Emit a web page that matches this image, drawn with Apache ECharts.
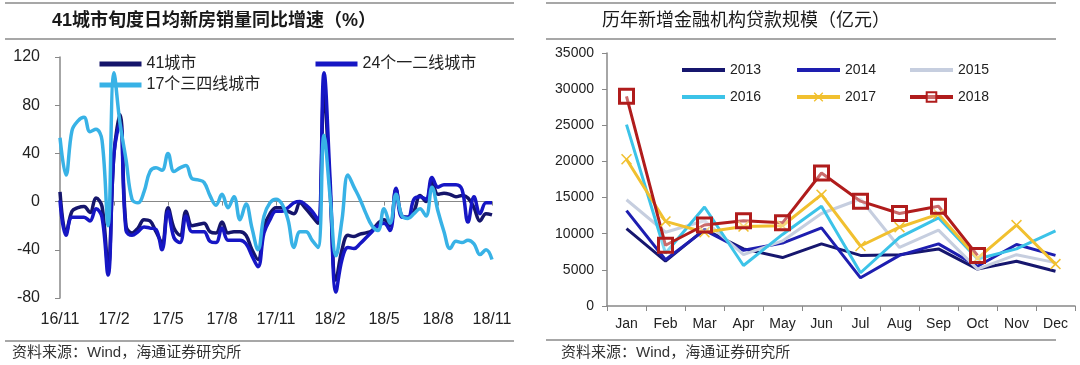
<!DOCTYPE html>
<html>
<head>
<meta charset="utf-8">
<script src="https://cdn.jsdelivr.net/npm/echarts@6/dist/echarts.min.js"></script>
<style>
  html, body { margin: 0; padding: 0; background: #fff; }
  #main { width: 1080px; height: 365px; }
</style>
</head>
<body>
<div id="main"></div>
<script>
// ---- left chart: 41 cities, ten-day new home sales yoy (%) ----
let xun_months = ['16/11','16/12','17/1','17/2','17/3','17/4','17/5','17/6','17/7','17/8','17/9','17/10',
    '17/11','17/12','18/1','18/2','18/3','18/4','18/5','18/6','18/7','18/8','18/9','18/10','18/11'];
let xun_tick_labels = ['16/11','17/2','17/5','17/8','17/11','18/2','18/5','18/8','18/11'];

let city41 = [8, -26, -8, -5, -4, -9, 3, -4, -54, 40, 72, -20, -26, -22, -15, -16, -25, -34, -5, -22,
    -28, -8, -20, -19, -18, -25, -26, -17, -26, -25, -25, -28, -40, -48, -21, -10, -5, -5, -8, -10,
    -1, -6, -12, -18, 90, 10, -65, -40, -28, -29, -27, -26, -24, -18, -15, -20, 10, -12, -13, -8,
    5, 0, 17, 6, 7, 6, 4, 5, 3, -5, -16, -10, -11];
let city24 = [1, -28, -13, -13, -13, -16, -6, -13, -61, 40, 65, -24, -28, -25, -21, -22, -23, -40, -8, -30,
    -34, -12, -25, -25, -25, -33, -34, -22, -32, -32, -32, -35, -45, -54, -26, -15, -8, -8, -5, -1,
    0, -3, -8, -15, 107, 20, -75, -48, -38, -39, -35, -30, -25, -20, -18, -24, 11, -13, -13, 2,
    4, 2, 20, 12, 14, 14, 14, 10, -17, 4, -10, -1, -1];
let city17 = [53, 22, 59, 67, 70, 58, 60, 51, -20, 107, 65, 35, 2, -1, 8, 25, 28, 26, 40, 25,
    28, 30, 19, 18, 16, 5, -3, 6, -5, 4, -15, -2, -22, -40, -12, -1, 2, -2, -15, -38,
    -25, -25, -32, -38, 55, 5, -45, -15, 22, 12, 2, -10, -20, -24, -6, -18, 6, -12, -14, -10,
    -6, -12, 12, -8, -25, -39, -33, -34, -32, -35, -44, -40, -48];

let xun_categories = [];
xun_months.forEach(function (m) {
    ['上', '中', '下'].forEach(function (x) { xun_categories.push(m + x); });
});
xun_categories = xun_categories.slice(0, city41.length);

// ---- right chart: new loans by year (亿元) ----
let loan_months = ['Jan','Feb','Mar','Apr','May','Jun','Jul','Aug','Sep','Oct','Nov','Dec'];
let loan_2013 = [10700, 6200, 10600, 7900, 6700, 8600, 7000, 7100, 7900, 5100, 6200, 4800];
let loan_2014 = [13200, 6400, 10500, 7700, 8700, 10800, 3900, 7000, 8600, 5500, 8500, 7000];
let loan_2015 = [14700, 10200, 11800, 7100, 9000, 12800, 14800, 8100, 10500, 5100, 7100, 6000];
let loan_2016 = [25100, 7300, 13700, 5600, 9900, 13800, 4600, 9500, 12200, 6500, 7900, 10400];
let loan_2017 = [20300, 11700, 10200, 11000, 11100, 15400, 8300, 10900, 12700, 6600, 11200, 5800];
let loan_2018 = [29000, 8400, 11200, 11800, 11500, 18400, 14500, 12800, 13800, 7000, null, null];

const font = '"Liberation Sans", Arial, "Noto Sans CJK SC", sans-serif';
const ruleColor = '#8a8a8a';

function xunLine(name, data, color) {
    return {
        name: name,
        type: 'line',
        xAxisIndex: 0,
        yAxisIndex: 0,
        data: data,
        smooth: 0.4,
        symbol: 'none',
        lineStyle: { color: color, width: 3.5 },
        itemStyle: { color: color }
    };
}

function loanLine(name, data, color, extra) {
    return Object.assign({
        name: name,
        type: 'line',
        xAxisIndex: 2,
        yAxisIndex: 1,
        data: data,
        symbol: 'none',
        lineStyle: { color: color, width: 3 },
        itemStyle: { color: color }
    }, extra || {});
}

// legend entry that shows only the line, no marker
function plain(name) {
    return { name: name, itemStyle: { opacity: 0 } };
}

let legendText = { fontSize: 16, color: '#222', fontFamily: font };
let legendText2 = { fontSize: 14, color: '#222', fontFamily: font };

let option = {
    animation: false,
    backgroundColor: '#fff',
    title: [
        {
            text: '41城市旬度日均新房销量同比增速（%）',
            left: 52, top: 12, padding: 0,
            textStyle: { fontSize: 18, fontWeight: 'bold', color: '#1a1a1a', fontFamily: font }
        },
        {
            text: '历年新增金融机构贷款规模（亿元）',
            left: 602, top: 12, padding: 0,
            textStyle: { fontSize: 18, fontWeight: 'normal', color: '#1a1a1a', fontFamily: font }
        },
        {
            text: '资料来源：Wind，海通证券研究所',
            left: 12, top: 345, padding: 0,
            textStyle: { fontSize: 15, fontWeight: 'normal', color: '#333', fontFamily: font }
        },
        {
            text: '资料来源：Wind，海通证券研究所',
            left: 561, top: 345, padding: 0,
            textStyle: { fontSize: 15, fontWeight: 'normal', color: '#333', fontFamily: font }
        }
    ],
    graphic: [
        { type: 'line', shape: { x1: 5, y1: 3, x2: 514, y2: 3 }, style: { stroke: ruleColor, lineWidth: 1.5 } },
        { type: 'line', shape: { x1: 5, y1: 39, x2: 514, y2: 39 }, style: { stroke: ruleColor, lineWidth: 1.5 } },
        { type: 'line', shape: { x1: 5, y1: 341, x2: 514, y2: 341 }, style: { stroke: ruleColor, lineWidth: 1.5 } },
        { type: 'line', shape: { x1: 546, y1: 3, x2: 1056, y2: 3 }, style: { stroke: ruleColor, lineWidth: 1.5 } },
        { type: 'line', shape: { x1: 546, y1: 39, x2: 1056, y2: 39 }, style: { stroke: ruleColor, lineWidth: 1.5 } },
        { type: 'line', shape: { x1: 546, y1: 340, x2: 1056, y2: 340 }, style: { stroke: ruleColor, lineWidth: 1.5 } }
    ],
    legend: [
        {
            data: [plain('41城市'), plain('17个三四线城市')], orient: 'vertical', left: 97, top: 56,
            itemWidth: 42, itemHeight: 10, itemGap: 5, padding: 0,
            lineStyle: { width: 5 }, textStyle: legendText
        },
        {
            data: [plain('24个一二线城市')], orient: 'vertical', left: 313, top: 56,
            itemWidth: 42, itemHeight: 10, itemGap: 5, padding: 0,
            lineStyle: { width: 5 }, textStyle: legendText
        },
        {
            data: [plain('2013'), plain('2016')], orient: 'vertical', left: 680, top: 63,
            itemWidth: 43, itemHeight: 12, itemGap: 13, padding: 0,
            lineStyle: { width: 4 }, textStyle: legendText2
        },
        {
            data: [plain('2014'), '2017'], orient: 'vertical', left: 795, top: 63,
            itemWidth: 43, itemHeight: 12, itemGap: 13, padding: 0,
            lineStyle: { width: 4 }, textStyle: legendText2
        },
        {
            data: [plain('2015'), '2018'], orient: 'vertical', left: 908, top: 63,
            itemWidth: 43, itemHeight: 12, itemGap: 13, padding: 0,
            lineStyle: { width: 4 }, textStyle: legendText2
        }
    ],
    grid: [
        { left: 60, top: 57, width: 432, height: 241 },
        { left: 607, top: 53, width: 468, height: 253 }
    ],
    xAxis: [
        {
            // zero line with ticks
            gridIndex: 0,
            type: 'category',
            data: xun_categories,
            boundaryGap: false,
            axisLine: { show: true, onZero: true, lineStyle: { color: '#888', width: 1 } },
            axisTick: { show: true, interval: 8, length: 4, lineStyle: { color: '#888' } },
            axisLabel: { show: false },
            splitLine: { show: false }
        },
        {
            // bottom labels
            gridIndex: 0,
            type: 'category',
            position: 'bottom',
            data: xun_categories,
            boundaryGap: false,
            axisLine: { show: false, onZero: false },
            axisTick: { show: false },
            axisLabel: {
                show: true,
                interval: 8,
                margin: 14,
                fontSize: 16,
                color: '#222',
                fontFamily: font,
                formatter: function (v, i) {
                    return xun_tick_labels[i / 9] || '';
                }
            },
            splitLine: { show: false }
        },
        {
            gridIndex: 1,
            type: 'category',
            data: loan_months,
            boundaryGap: true,
            axisLine: { show: true, onZero: false, lineStyle: { color: '#888', width: 1.5 } },
            axisTick: { show: true, length: 5, lineStyle: { color: '#888' } },
            axisLabel: { margin: 11, fontSize: 14, color: '#222', fontFamily: font, interval: 0 },
            splitLine: { show: false }
        }
    ],
    yAxis: [
        {
            gridIndex: 0,
            type: 'value',
            min: -80,
            max: 120,
            interval: 40,
            axisLine: { show: true, lineStyle: { color: '#888', width: 1.5 } },
            axisTick: { show: true, length: 5, lineStyle: { color: '#888' } },
            axisLabel: { margin: 20, fontSize: 16, color: '#222', fontFamily: font },
            splitLine: { show: false }
        },
        {
            gridIndex: 1,
            type: 'value',
            min: 0,
            max: 35000,
            interval: 5000,
            axisLine: { show: true, lineStyle: { color: '#888', width: 1.5 } },
            axisTick: { show: true, length: 5, lineStyle: { color: '#888' } },
            axisLabel: {
                margin: 13, fontSize: 14, color: '#222', fontFamily: font,
                formatter: function (v) { return String(v); }
            },
            splitLine: { show: false }
        }
    ],
    series: [
        xunLine('41城市', city41, '#15156b'),
        xunLine('24个一二线城市', city24, '#1616c4'),
        xunLine('17个三四线城市', city17, '#38b2e6'),

        loanLine('2013', loan_2013, '#16166e'),
        loanLine('2014', loan_2014, '#1e1eb0'),
        loanLine('2015', loan_2015, '#c6cedf'),
        loanLine('2016', loan_2016, '#3cc3e8'),
        loanLine('2017', loan_2017, '#f1c02f', {
            symbol: 'path://M0,1L1,0L5,4L9,0L10,1L6,5L10,9L9,10L5,6L1,10L0,9L4,5Z',
            symbolSize: 11,
            showSymbol: true,
            itemStyle: { color: '#f1c02f' }
        }),
        loanLine('2018', loan_2018, '#b01c1c', {
            symbol: 'rect',
            symbolSize: 14,
            showSymbol: true,
            itemStyle: { color: 'rgba(255,255,255,0.35)', borderColor: '#b01c1c', borderWidth: 3 }
        })
    ]
};

var main_chart = echarts.init(document.getElementById('main'));
main_chart.setOption(option);
</script>
</body>
</html>
